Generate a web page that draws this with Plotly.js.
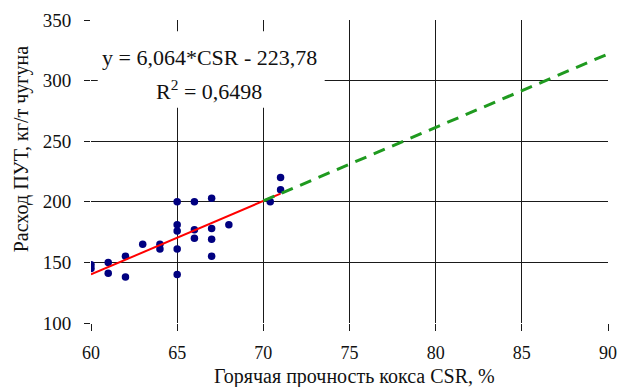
<!DOCTYPE html>
<html>
<head>
<meta charset="utf-8">
<script src="https://cdn.plot.ly/plotly-3.0.1.min.js"></script>
<style>
  html, body { margin: 0; padding: 0; background: #fff; }
  #chart { width: 619px; height: 387px; }
</style>
</head>
<body>
<div id="chart"></div>
<script>
// Hot coke strength CSR, %
const csr = [60, 60, 61, 61, 62, 62, 63, 64, 64,
             65, 65, 65, 65, 65,
             66, 66, 66,
             67, 67, 67, 67,
             68, 70.4, 71, 71];
// PCI consumption, kg per tonne of hot metal
const put = [148, 145, 150, 141, 155, 138, 165, 165, 161,
             200, 181, 176, 161, 140,
             200, 177, 170,
             203, 178, 169, 155,
             181, 200, 220, 210];

// Linear trend: y = 6,064*CSR - 223,78, R² = 0,6498
const slope = 6.064;
const intercept = -223.78;
const fitRange = [60, 71];    // span of the measured data
const projRange = [70, 90];   // extrapolated part

const xTicks = [60, 65, 70, 75, 80, 85, 90];
const yTicks = [100, 150, 200, 250, 300, 350];

const line = (xs) => xs.map(x => slope * x + intercept);

const serif = 'Liberation Serif, Times New Roman, serif';
const ink = '#111';

const traces = [
  {
    x: csr, y: put, type: 'scatter', mode: 'markers',
    marker: { color: '#000080', size: 7.5 },
    hoverinfo: 'x+y'
  },
  {
    x: fitRange, y: line(fitRange), type: 'scatter', mode: 'lines',
    line: { color: '#ff0000', width: 2 }
  },
  {
    x: projRange, y: line(projRange), type: 'scatter', mode: 'lines',
    line: { color: '#1f9a1f', width: 3, dash: '12px,8px' }
  }
];

function axis(extra) {
  return Object.assign({
    showgrid: true, gridcolor: '#1a1a1a', gridwidth: 1,
    zeroline: false, showline: false,
    ticks: 'outside', tickcolor: '#1a1a1a', tickwidth: 1,
    tickfont: { family: serif, size: 19, color: ink }
  }, extra);
}

const layout = {
  width: 619, height: 387,
  margin: { l: 91, r: 11, t: 20, b: 64 },
  paper_bgcolor: '#fff', plot_bgcolor: '#fff',
  font: { family: serif, color: ink },
  showlegend: false,
  xaxis: axis({ range: [60, 90], tickvals: xTicks, ticklen: 7, ticklabelstandoff: 6,
                tickfont: { family: serif, size: 18, color: ink } }),
  yaxis: axis({ range: [100, 350], tickvals: yTicks, ticklen: 6, ticklabelstandoff: 9 }),
  shapes: [
    // white backing behind the equation text
    { type: 'rect', xref: 'paper', yref: 'paper', layer: 'above',
      x0: 0.013, x1: 0.452, y0: 0.71, y1: 0.963,
      fillcolor: '#fff', line: { width: 0 } }
  ],
  annotations: [
    { xref: 'paper', yref: 'paper', x: 0.229, y: 0.875,
      xanchor: 'center', yanchor: 'middle', showarrow: false,
      text: 'y = 6,064*CSR - 223,78',
      font: { family: serif, size: 22, color: ink } },
    { xref: 'paper', yref: 'paper', x: 0.229, y: 0.77,
      xanchor: 'center', yanchor: 'middle', showarrow: false,
      text: 'R<sup>2</sup> = 0,6498',
      font: { family: serif, size: 22, color: ink } },
    // axis titles
    { xref: 'paper', yref: 'paper', x: 0.51, y: -0.175,
      xanchor: 'center', yanchor: 'middle', showarrow: false,
      text: 'Горячая прочность кокса CSR, %',
      font: { family: serif, size: 20, color: ink } },
    { xref: 'paper', yref: 'paper', x: -0.135, y: 0.574,
      xanchor: 'center', yanchor: 'middle', showarrow: false, textangle: -90,
      text: 'Расход ПУТ, кг/т чугуна',
      font: { family: serif, size: 20, color: ink } }
  ]
};

Plotly.newPlot('chart', traces, layout, { displayModeBar: false, staticPlot: true });
</script>
</body>
</html>
